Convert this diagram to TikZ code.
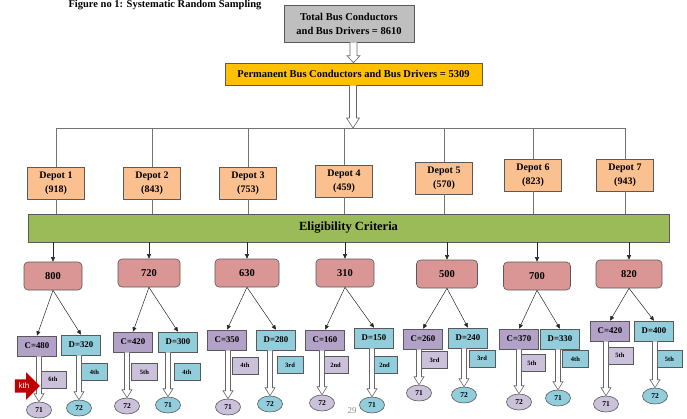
\documentclass[tikz,border=0pt]{standalone}
\usepackage{fontspec}
\setmainfont{Liberation Serif}
\newfontfamily\kthfont{Liberation Sans}
\usetikzlibrary{shapes.arrows,shapes.geometric,arrows.meta,positioning,calc}
\definecolor{totgray}{HTML}{BFBFBF}
\definecolor{permgold}{HTML}{FFC000}
\definecolor{depotpeach}{HTML}{FAC090}
\definecolor{eliggreen}{HTML}{9BBB59}
\definecolor{selrose}{HTML}{D99694}
\definecolor{condpurple}{HTML}{B3A2C7}
\definecolor{drvcyan}{HTML}{92CDDC}
\definecolor{lilac}{HTML}{CCC1DA}
\definecolor{kthred}{HTML}{C00000}

% block arrow pointing down: from, to, shaft half width, head half width, head length
\newcommand\hollowArrow[5]{%
  \draw[arrowEdge] let \p1=(#1), \p2=(#2) in
    (\x2-#3,\y1) -- (\x2-#3,\y2+#5) -- (\x2-#4,\y2+#5) -- (\x2,\y2)
    -- (\x2+#4,\y2+#5) -- (\x2+#3,\y2+#5) -- (\x2+#3,\y1);}

\begin{document}
\begin{tikzpicture}
  [x=1pt,y=-1pt,
   box/.style={draw=black!65,line width=0.6pt,inner sep=0pt,align=center},
   depotN/.style={box,fill=depotpeach,minimum width=57pt,minimum height=32pt,
                  font=\bfseries\fontsize{10}{14}\selectfont},
   selN/.style={box,fill=selrose,rounded corners=4pt,minimum height=28pt,
                font=\bfseries\fontsize{10.5}{12}\selectfont},
   condN/.style={box,fill=condpurple,minimum width=39pt,minimum height=20pt,
                 font=\bfseries\fontsize{8.8}{10}\selectfont},
   drvN/.style={condN,fill=drvcyan},
   tagN/.style={box,minimum width=26pt,minimum height=17pt,
                font=\bfseries\fontsize{6.5}{7}\selectfont},
   ballN/.style={ellipse,box,minimum width=25pt,minimum height=16pt,
                 font=\bfseries\fontsize{7.5}{8}\selectfont},
   treeLine/.style={draw=black!55,line width=0.6pt},
   thinArrow/.style={draw=black!85,line width=0.5pt,-{Triangle[length=4.5pt,width=4pt]}},
   arrowEdge/.style={draw=black!60,line width=0.6pt,fill=white},
  ]
 \useasboundingbox (0,0) rectangle (687,418);

 % heading and totals
 \node[font=\bfseries\fontsize{10.5}{12}\selectfont] (title) at (165,5)
      {Figure no 1: Systematic Random Sampling};
 \node[box,fill=totgray,minimum width=130pt,minimum height=37pt,
       font=\bfseries\fontsize{10.5}{14}\selectfont] (tot) at (349,23.5)
      {Total Bus Conductors\\and Bus Drivers = 8610};
 \node[box,fill=permgold,minimum width=257pt,minimum height=22pt,
       font=\bfseries\fontsize{10.5}{12}\selectfont] (perm) at (353.5,74)
      {Permanent Bus Conductors and Bus Drivers = 5309};
 \coordinate (top) at (353,128);

 \hollowArrow{tot.south}{perm.north}{3.5pt}{6.5pt}{7pt}
 \hollowArrow{perm.south}{top}{3.5pt}{6.5pt}{10pt}

 % depots
 \foreach \i/\x/\y/\n in {1/56/183/918, 2/152/183/843, 3/248/183/753, 4/344/181/459,
                          5/444/178/570, 6/533/175/823, 7/625/175/943}
   \node[depotN] (dep\i) at (\x,\y) {Depot \i\\(\n)};

 \node[box,fill=eliggreen,minimum width=641pt,minimum height=28pt,
       font=\bfseries\fontsize{12.5}{14}\selectfont] (elig) at (348.5,228)
      {Eligibility Criteria};

 \draw[treeLine] (dep1.north |- top) -- (dep7.north |- top);
 \foreach \i in {1,...,7}{
   \draw[treeLine] (dep\i.north |- top) -- (dep\i.north);
   \draw[treeLine] (dep\i.south) -- (dep\i.south |- elig.north);
 }

 % eligible staff per depot
 \foreach \i/\x/\y/\w/\v in {1/53/276/58/800, 2/149/273/62/720, 3/247/273/64/630,
                             4/345/273/58/310, 5/447/274/61/500, 6/537/276/67/700,
                             7/629/274/66/820}{
   \node[selN,minimum width=\w pt] (sel\i) at (\x,\y) {\v};
   \draw[thinArrow] (sel\i.north |- elig.south) -- (sel\i.north);
 }

 % conductors and drivers
 \foreach \i/\cx/\cy/\c/\dx/\dy/\d in {1/37/346/480/81/345/320, 2/133/342/420/178/342/300,
                                       3/227/340/350/276/340/280, 4/325/340/160/374/338/150,
                                       5/423/339/260/468/338/240, 6/519/339/370/560/339/330,
                                       7/610/331/420/654/331/400}{
   \node[condN] (cond\i) at (\cx,\cy) {C=\c};
   \node[drvN] (drv\i) at (\dx,\dy) {D=\d};
   \draw[thinArrow] (sel\i.south) -- (cond\i.north);
   \draw[thinArrow] (sel\i.south) -- (drv\i.north);
 }

 % sampling interval
 \foreach \i/\cx/\cy/\ct/\dx/\dy/\dt in {1/53/379.5/6th/94.5/372/4th, 2/144.5/372/5th/187/372/4th,
                                         3/245/365.5/4th/290/365/3rd, 4/335.5/365/2nd/384.5/365/2nd,
                                         5/434.5/360/3rd/482/358.5/3rd, 6/532/363/5th/575.5/359/4th,
                                         7/620/355.5/5th/669.5/359/5th}{
   \node[tagN,fill=lilac] (ct\i) at (\cx,\cy) {\ct};
   \node[tagN,fill=drvcyan] (dt\i) at (\dx,\dy) {\dt};
 }

 % sample sizes
 \foreach \i/\cx/\cy/\cn/\dx/\dy/\dn in {1/39/410/71/79/408/72, 2/127/406/72/168/405/71,
                                         3/228/407/71/270/404/72, 4/322/403/72/372/405/71,
                                         5/419/393/71/464/395/72, 6/519/402/72/558/398/71,
                                         7/606/404/71/655/396/72}{
   \node[ballN,fill=lilac] (cb\i) at (\cx,\cy) {\cn};
   \node[ballN,fill=drvcyan] (db\i) at (\dx,\dy) {\dn};
   \hollowArrow{cond\i.south}{cb\i.north}{2.5pt}{5pt}{8pt}
   \hollowArrow{drv\i.south}{db\i.north}{2.5pt}{5pt}{8pt}
 }

 \node[single arrow,fill=kthred,text=white,inner xsep=1pt,inner ysep=3.5pt,
       minimum height=25pt,single arrow head extend=7pt,
       font=\kthfont\fontsize{8}{9}\selectfont] (kth) at (24,386) {kth};

 \node[text=black!45,font=\fontsize{9}{10}\selectfont] (page) at (352,411) {29};

\end{tikzpicture}
\end{document}
